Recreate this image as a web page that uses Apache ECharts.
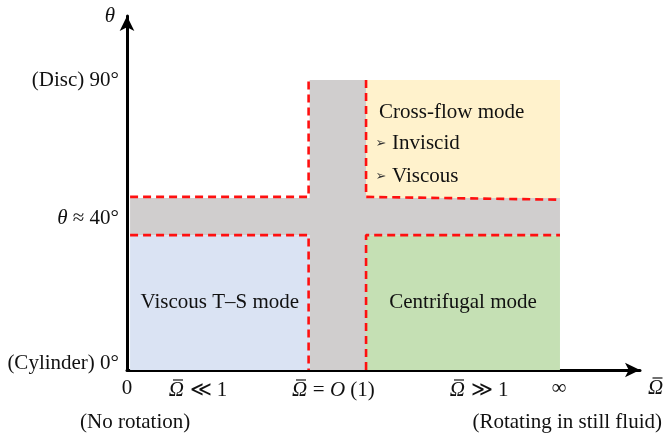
<!DOCTYPE html>
<html>
<head>
<meta charset="utf-8">
<script src="https://cdn.jsdelivr.net/npm/echarts@6/dist/echarts.min.js"></script>
<style>
  html, body { margin: 0; padding: 0; background: #fff; }
  #chart { width: 667px; height: 436px; }
</style>
</head>
<body>
<div id="chart"></div>
<script>
// regime diagram, both axes in arbitrary (schematic) units
const xTickValues = [0, 13.8, 40.2, 68.6, 84.2];
const xTickLabels = ['0', '{om|Ω} ≪ 1', '{om|Ω} = {it|O} (1)', '{om|Ω} ≫ 1', '∞'];
const yTickValues = [0, 42.9, 81.9];
const yTickLabels = ['(Cylinder) 0°', '{it|θ} ≈ 40°', '(Disc) 90°'];

// regions as [x0, x1, y0, y1]; the two grey bands are the transition zones
const regionNames = ['', '', 'Viscous T–S mode', 'Centrifugal mode', 'Cross-flow mode'];
const regionBounds = [
  [35.6, 46.6, 0, 81.9],
  [0.6, 84.4, 38.1, 48.6],
  [0.6, 35.6, 0, 38.1],
  [46.6, 84.4, 0, 38.1],
  [46.6, 84.4, 48.6, 81.9]
];
const crossFlowItems = ['Inviscid', 'Viscous'];

// dashed boundaries around the transition zones
const boundaryLines = [
  [[0.6, 48.9], [35.4, 48.9], [35.4, 81.9]],
  [[46.6, 81.9], [46.6, 48.9], [84.4, 48.1]],
  [[0.6, 38.1], [35.4, 38.1], [35.4, 0]],
  [[46.6, 0], [46.6, 38.1], [84.4, 38.1]]
];

const regionColors = ['#d0cece', '#d0cece', '#dae3f3', '#c5e0b4', '#fff2cc'];
const serif = 'Liberation Serif';
const fs = 21;

// overbar for the Omega symbol, used as the background of its text token
const bar = document.createElement('canvas');
bar.width = 32;
bar.height = 48;
const bctx = bar.getContext('2d');
bctx.strokeStyle = '#111';
bctx.lineWidth = 2.4;
bctx.beginPath();
bctx.moveTo(9, 4);
bctx.lineTo(29, 4);
bctx.stroke();

const omegaStyle = {
  fontStyle: 'italic', fontFamily: serif, fontSize: fs, color: '#111',
  width: 16, height: 24, lineHeight: 24,
  backgroundColor: { image: bar }
};

const chart = echarts.init(document.getElementById('chart'));

const lineSeries = boundaryLines.map(function (pts) {
  return {
    type: 'line',
    data: pts,
    symbol: 'none',
    silent: true,
    z: 5,
    lineStyle: { color: '#ff1010', width: 2.6, type: [8, 5] }
  };
});

const option = {
  animation: false,
  grid: { left: 127, right: 27, top: 16, bottom: 66 },
  xAxis: {
    type: 'value',
    min: 0,
    max: 100,
    name: '{om|Ω}',
    nameLocation: 'end',
    nameGap: 8,
    nameTextStyle: {
      fontFamily: serif, fontSize: fs, color: '#111',
      align: 'left', verticalAlign: 'top', padding: [6, 0, 0, 0],
      rich: { om: omegaStyle }
    },
    axisLine: {
      show: true,
      symbol: ['none', 'arrow'],
      symbolSize: [11, 15],
      lineStyle: { color: '#000', width: 3 }
    },
    axisTick: { show: false },
    splitLine: { show: false },
    axisLabel: {
      customValues: xTickValues,
      margin: 8,
      fontFamily: serif,
      fontSize: fs,
      color: '#111',
      formatter: function (v) {
        return xTickLabels[xTickValues.indexOf(v)];
      },
      rich: {
        om: omegaStyle,
        it: { fontStyle: 'italic', fontFamily: serif, fontSize: fs, color: '#111' }
      }
    }
  },
  yAxis: {
    type: 'value',
    min: 0,
    max: 100,
    name: 'θ',
    nameLocation: 'end',
    nameGap: 0,
    nameTextStyle: {
      fontFamily: serif, fontSize: fs, fontStyle: 'italic', color: '#111',
      align: 'right', verticalAlign: 'middle', padding: [0, 12, 0, 0]
    },
    axisLine: {
      show: true,
      symbol: ['none', 'arrow'],
      symbolSize: [11, 15],
      lineStyle: { color: '#000', width: 3 }
    },
    axisTick: { show: false },
    splitLine: { show: false },
    axisLabel: {
      customValues: yTickValues,
      margin: 8,
      fontFamily: serif,
      fontSize: fs,
      color: '#111',
      formatter: function (v) {
        const i = yTickValues.indexOf(v);
        return i === 0 ? '{low|' + yTickLabels[i] + '}' : yTickLabels[i];
      },
      rich: {
        low: { padding: [0, 0, 14, 0], fontFamily: serif, fontSize: fs, color: '#111' },
        it: { fontStyle: 'italic', fontFamily: serif, fontSize: fs, color: '#111' }
      }
    }
  },
  graphic: [
    {
      type: 'text', left: 80, top: 412,
      style: { text: '(No rotation)', font: fs + 'px "Liberation Serif"', fill: '#111' }
    },
    {
      type: 'text', right: 5, top: 412,
      style: { text: '(Rotating in still fluid)', font: fs + 'px "Liberation Serif"', fill: '#111' }
    }
  ],
  series: [
    {
      type: 'custom',
      silent: true,
      z: 1,
      data: regionBounds.map(function (b, i) { return b.concat([i]); }),
      encode: { x: [0, 1], y: [2, 3] },
      renderItem: function (params, api) {
        const i = api.value(4);
        const p0 = api.coord([api.value(0), api.value(3)]);
        const p1 = api.coord([api.value(1), api.value(2)]);
        const w = p1[0] - p0[0];
        const h = p1[1] - p0[1];
        const children = [{
          type: 'rect',
          shape: { x: p0[0], y: p0[1], width: w, height: h },
          style: { fill: regionColors[i] }
        }];
        const font = fs + 'px "Liberation Serif"';
        if (i === 4) {
          children.push({
            type: 'text',
            style: { x: p0[0] + 13, y: p0[1] + 32, text: regionNames[i], font: font,
              fill: '#111', verticalAlign: 'middle' }
          });
          crossFlowItems.forEach(function (t, k) {
            const y = p0[1] + 63 + k * 33;
            children.push({
              type: 'text',
              style: { x: p0[0] + 15, y: y + 1, text: '➢', font: '13px "DejaVu Sans"',
                fill: '#333', align: 'center', verticalAlign: 'middle' }
            });
            children.push({
              type: 'text',
              style: { x: p0[0] + 26, y: y, text: t, font: font,
                fill: '#111', verticalAlign: 'middle' }
            });
          });
        } else if (regionNames[i]) {
          children.push({
            type: 'text',
            style: { x: p0[0] + w / 2, y: p0[1] + h / 2, text: regionNames[i], font: font,
              fill: '#111', align: 'center', verticalAlign: 'middle' }
          });
        }
        return { type: 'group', children: children };
      }
    }
  ].concat(lineSeries)
};

chart.setOption(option);
</script>
</body>
</html>
